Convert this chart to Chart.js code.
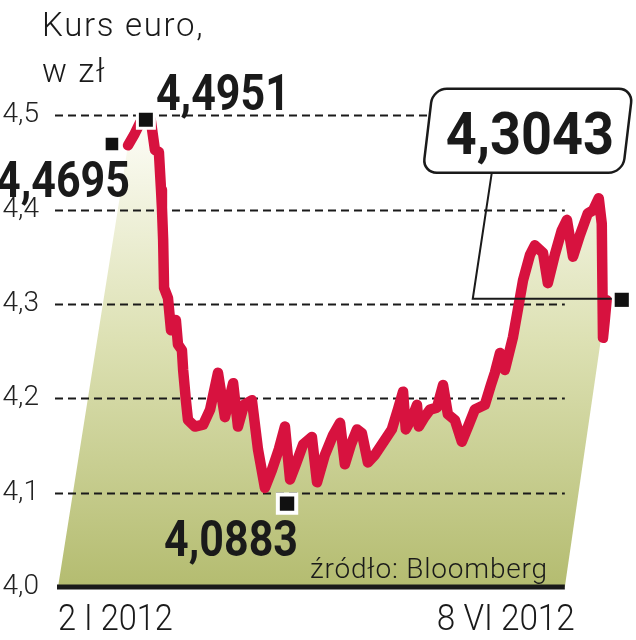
<!DOCTYPE html>
<html>
<head>
    <script src="https://cdn.jsdelivr.net/npm/chart.js"></script>
    <style>
        body { margin: 0; background: #fff; }
        #wrapper { width: 636px; height: 640px; }
    </style>
</head>
<body>
    <div id="wrapper">
        <canvas id="euro"></canvas>
    </div>

<script>
    // days since 2 I 2012, EUR/PLN rate
    var days = [0, 2, 4, 7.5, 8.9, 10.2, 10.9, 11.2, 11.6, 11.9, 13.2, 14.2, 15.8, 16.5, 17.8, 18.2, 19.1, 19.8,
        22.1, 24.8, 27.1, 29.7, 32.0, 34.7, 36.3, 38.3, 40.9, 42.9, 45.2, 47.5, 49.8, 51.8, 53.5, 55.4, 57.8,
        60.7, 62.4, 65.0, 67.7, 70.0, 71.6, 73.6, 75.6, 77.2, 79.2, 81.5, 84.8, 87.1, 89.1, 90.8, 91.7, 93.7,
        95.4, 96.0, 97.7, 99.7, 102.0, 104.0, 105.6, 107.9, 110.2, 112.5, 114.5, 117.8, 119.8, 121.1, 122.8,
        124.4, 127.1, 128.7, 130.4, 132.7, 134.3, 137.0, 138.6, 140.9, 143.2, 144.9, 146.9, 149.2, 151.8,
        153.5, 155.4, 156.4, 156.8, 157.4, 158.0];
    var rates = [4.468, 4.479, 4.492, 4.495, 4.463, 4.461, 4.421, 4.402, 4.368, 4.317, 4.306, 4.272, 4.283, 4.257, 4.251, 4.230, 4.198, 4.177,
        4.170, 4.172, 4.188, 4.227, 4.180, 4.216, 4.170, 4.193, 4.198, 4.146, 4.105, 4.124, 4.146, 4.170, 4.114, 4.130, 4.151,
        4.159, 4.111, 4.140, 4.161, 4.174, 4.130, 4.151, 4.167, 4.163, 4.132, 4.140, 4.156, 4.167, 4.188, 4.207, 4.167, 4.179,
        4.193, 4.170, 4.179, 4.188, 4.190, 4.214, 4.183, 4.177, 4.154, 4.172, 4.188, 4.193, 4.214, 4.227, 4.248,
        4.230, 4.265, 4.294, 4.325, 4.352, 4.362, 4.354, 4.322, 4.352, 4.378, 4.389, 4.350, 4.373, 4.396,
        4.399, 4.412, 4.385, 4.264, 4.283, 4.304];

    var yTicks = [4.0, 4.1, 4.2, 4.3, 4.4, 4.5];
    var dateLabels = ['2 I 2012', '8 VI 2012'];

    var markerDays = [5.9, -5.3, 52.5, 163];
    var markerRates = [4.4951, 4.4695, 4.0883, 4.3043];
    var markerLabels = ['4,4951', '4,4695', '4,0883', '4,3043'];

    // slanted edges of the shaded area
    var fillStartDay = -23.1;
    var gridEndDay = 144.2;

    var linePoints = days.map(function (d, i) { return { x: d, y: rates[i] }; });
    var fillPoints = [{ x: fillStartDay, y: 4.0 }].concat(linePoints);
    var markerPoints = markerDays.map(function (d, i) { return { x: d, y: markerRates[i] }; });

    var fmt = function (v) { return v.toFixed(1).replace('.', ','); };

    function text(ctx, s, x, y, align, font, sx, spacing) {
        ctx.save();
        ctx.font = font;
        ctx.letterSpacing = spacing || '0px';
        ctx.textAlign = align;
        ctx.translate(x, y);
        ctx.scale(sx, 1);
        ctx.fillText(s, 0, 0);
        ctx.restore();
    }

    var decor = {
        id: 'decor',
        beforeDatasetsDraw: function (chart) {
            // cut the shaded area along the right slant
            var ctx = chart.ctx, x = chart.scales.x, y = chart.scales.y;
            var x0 = x.getPixelForValue(gridEndDay), y0 = y.getPixelForValue(4.0);
            var x1 = x.getPixelForValue(days[days.length - 1]), y1 = y.getPixelForValue(rates[rates.length - 1]);
            var k = (x1 - x0) / (y1 - y0);
            ctx.save();
            ctx.beginPath();
            ctx.moveTo(0, 0);
            ctx.lineTo(x0 + k * (0 - y0), 0);
            ctx.lineTo(x0 + k * (chart.height - y0), chart.height);
            ctx.lineTo(0, chart.height);
            ctx.closePath();
            ctx.clip();
        },
        afterDatasetDraw: function (chart, args) {
            if (args.index !== 0) return;
            var ctx = chart.ctx, x = chart.scales.x, y = chart.scales.y;
            ctx.restore();
            var left = chart.chartArea.left, right = x.getPixelForValue(gridEndDay);
            ctx.save();
            ctx.strokeStyle = '#1a1a1a';
            ctx.lineWidth = 2;
            ctx.setLineDash([8, 5]);
            yTicks.slice(1).forEach(function (v) {
                var py = Math.round(y.getPixelForValue(v)) + 0.5;
                ctx.beginPath();
                ctx.moveTo(left, py);
                ctx.lineTo(right, py);
                ctx.stroke();
            });
            ctx.setLineDash([]);
            ctx.lineWidth = 5;
            ctx.beginPath();
            ctx.moveTo(left + 2, y.getPixelForValue(4.0));
            ctx.lineTo(right, y.getPixelForValue(4.0));
            ctx.stroke();
            ctx.restore();
        },
        afterDraw: function (chart) {
            var ctx = chart.ctx, x = chart.scales.x;
            var pts = chart.getDatasetMeta(2).data;
            ctx.save();
            ctx.fillStyle = '#1a1a1a';
            ctx.textBaseline = 'alphabetic';

            text(ctx, 'Kurs euro,', 42, 36, 'left', '300 33px Roboto', 1, '1.7px');
            text(ctx, 'w zł', 42, 82, 'left', '300 33px Roboto', 1, '1.7px');

            var bold = 'bold 50px Roboto';
            text(ctx, markerLabels[0], pts[0].x + 10, pts[0].y - 10, 'left', bold, 0.86);
            text(ctx, markerLabels[1], pts[1].x + 18, pts[1].y + 53, 'right', bold, 0.86);
            text(ctx, markerLabels[2], pts[2].x + 11, pts[2].y + 52, 'right', bold, 0.86);

            // callout for the last value
            var p = pts[3];
            ctx.strokeStyle = '#1a1a1a';
            ctx.lineWidth = 2;
            ctx.beginPath();
            ctx.moveTo(p.x - 10, p.y - 1);
            ctx.lineTo(p.x - 149, p.y - 1);
            ctx.lineTo(p.x - 130, p.y - 127);
            ctx.stroke();
            ctx.save();
            ctx.translate(p.x - 94, p.y - 169);
            ctx.transform(1, 0, -0.12, 1, 0, 0);
            ctx.beginPath();
            ctx.roundRect(-100, -42, 200, 84, 14);
            ctx.fillStyle = '#fff';
            ctx.fill();
            ctx.lineWidth = 2.5;
            ctx.stroke();
            ctx.restore();
            ctx.fillStyle = '#1a1a1a';
            text(ctx, markerLabels[3], p.x - 92, p.y - 146, 'center', 'bold 60px Roboto', 0.9);

            text(ctx, 'źródło: Bloomberg', x.getPixelForValue(gridEndDay) - 17, 578, 'right', '300 28px Roboto', 1, '0.8px');

            text(ctx, dateLabels[0], x.getPixelForValue(fillStartDay), 630, 'left', '300 37px Roboto', 0.88);
            text(ctx, dateLabels[1], x.getPixelForValue(gridEndDay) + 10, 630, 'right', '300 37px Roboto', 0.9);
            ctx.restore();
        }
    };

    var chart = new Chart('euro', {
        type: 'line',
        data: {
            datasets: [
                {
                    data: fillPoints,
                    order: 3,
                    borderWidth: 0,
                    pointRadius: 0,
                    tension: 0,
                    fill: 'origin',
                    backgroundColor: function (c) {
                        var area = c.chart.chartArea;
                        if (!area) return 'rgba(0,0,0,0)';
                        var g = c.chart.ctx.createLinearGradient(0, c.chart.scales.y.getPixelForValue(4.48), 0, area.bottom);
                        g.addColorStop(0, '#fbfbf3');
                        g.addColorStop(0.45, '#dde1b4');
                        g.addColorStop(1, '#b4bc70');
                        return g;
                    }
                },
                {
                    data: linePoints,
                    order: 2,
                    borderColor: '#d7123f',
                    borderWidth: 10.5,
                    borderJoinStyle: 'round',
                    borderCapStyle: 'round',
                    pointRadius: 0,
                    tension: 0,
                    fill: false
                },
                {
                    data: markerPoints,
                    order: 1,
                    showLine: false,
                    pointStyle: 'rect',
                    pointRadius: [12, 11, 13, 10],
                    pointBackgroundColor: '#111',
                    pointBorderColor: '#fff',
                    pointBorderWidth: [3, 3, 4, 0]
                }
            ]
        },
        options: {
            responsive: true,
            maintainAspectRatio: false,
            animation: false,
            layout: { autoPadding: false, padding: { top: 0, right: 0, bottom: 53, left: 0 } },
            plugins: {
                legend: { display: false },
                tooltip: { enabled: false }
            },
            scales: {
                x: {
                    type: 'linear',
                    display: false,
                    min: -24.1,
                    max: 167.7
                },
                y: {
                    min: 4.0,
                    max: 4.622,
                    grid: { display: false },
                    border: { display: false },
                    afterBuildTicks: function (scale) {
                        scale.ticks = yTicks.map(function (v) { return { value: v }; });
                    },
                    afterFit: function (scale) {
                        scale.width = 55;
                        scale.paddingTop = 0;
                        scale.paddingBottom = 0;
                    },
                    ticks: {
                        padding: 8,
                        color: '#222',
                        font: { family: 'Roboto', size: 28, weight: '300' },
                        callback: function (v) { return fmt(v); }
                    }
                }
            }
        },
        plugins: [decor]
    });
</script>
</body>
</html>
